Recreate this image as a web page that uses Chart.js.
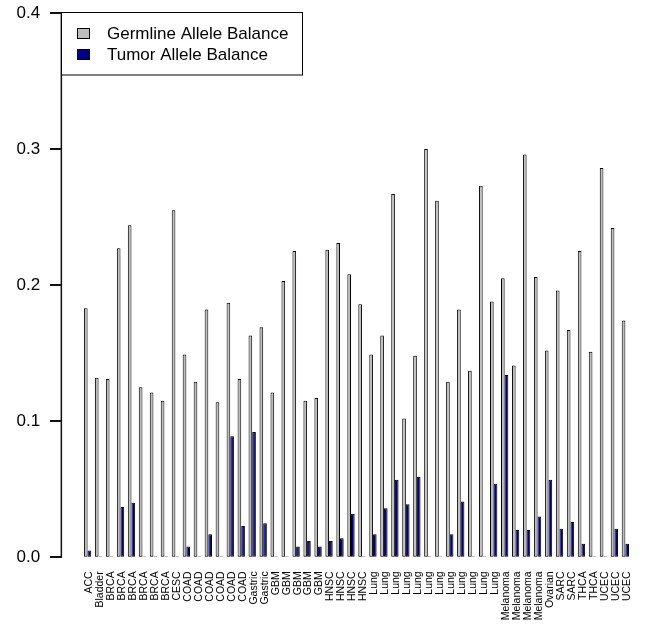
<!DOCTYPE html>
<html>
<head>
<meta charset="utf-8">
<title>Allele Balance</title>
<script src="https://cdn.jsdelivr.net/npm/chart.js@4/dist/chart.umd.min.js"></script>
<style>
  html, body { margin: 0; padding: 0; background: #ffffff; }
  #wrap { width: 652px; height: 635px; }
</style>
</head>
<body>
<div id="wrap"><canvas id="chart" width="652" height="635"></canvas></div>
<script>
// Sample tumour types, one per sample
const categories = [
  'ACC', 'Bladder',
  'BRCA', 'BRCA', 'BRCA', 'BRCA', 'BRCA', 'BRCA',
  'CESC',
  'COAD', 'COAD', 'COAD', 'COAD', 'COAD', 'COAD',
  'Gastric', 'Gastric',
  'GBM', 'GBM', 'GBM', 'GBM', 'GBM',
  'HNSC', 'HNSC', 'HNSC', 'HNSC',
  'Lung', 'Lung', 'Lung', 'Lung', 'Lung', 'Lung',
  'Lung', 'Lung', 'Lung', 'Lung', 'Lung', 'Lung',
  'Melanoma', 'Melanoma', 'Melanoma', 'Melanoma',
  'Ovarian',
  'SARC', 'SARC',
  'THCA', 'THCA',
  'UCEC', 'UCEC', 'UCEC'
];

// Germline allele balance per sample
const germline = [
  0.183, 0.132,
  0.131, 0.227, 0.244, 0.125, 0.121, 0.115,
  0.255,
  0.149, 0.129, 0.182, 0.114, 0.187, 0.131,
  0.163, 0.169,
  0.121, 0.203, 0.225, 0.115, 0.117,
  0.226, 0.231, 0.208, 0.186,
  0.149, 0.163, 0.267, 0.102, 0.148, 0.300,
  0.262, 0.129, 0.182, 0.137, 0.273, 0.188,
  0.205, 0.141, 0.296, 0.206,
  0.152,
  0.196, 0.167,
  0.225, 0.151,
  0.286, 0.242, 0.174
];

// Tumor allele balance per sample
const tumor = [
  0.005, 0,
  0, 0.037, 0.040, 0, 0, 0,
  0,
  0.008, 0, 0.017, 0, 0.089, 0.023,
  0.092, 0.025,
  0, 0, 0.008, 0.012, 0.008,
  0.012, 0.014, 0.032, 0,
  0.017, 0.036, 0.057, 0.039, 0.059, 0,
  0, 0.017, 0.041, 0, 0, 0.054,
  0.134, 0.020, 0.020, 0.030,
  0.057,
  0.021, 0.026,
  0.010, 0,
  0, 0.021, 0.010
];

const seriesNames = ['Germline Allele Balance', 'Tumor Allele Balance'];
const seriesColors = ['#bebebe', '#00008b'];
const yTickLabels = ['0.0', '0.1', '0.2', '0.3', '0.4'];

const FONT = '"Liberation Sans", Arial, Helvetica, sans-serif';
Chart.defaults.font.family = FONT;
Chart.defaults.color = '#000000';

// Left value axis drawn away from the plot region
const sideAxis = {
  id: 'sideAxis',
  afterDraw(chart) {
    const ctx = chart.ctx;
    const yScale = chart.scales.y;
    const top = yScale.getPixelForValue(yScale.max);
    const bottom = yScale.getPixelForValue(yScale.min);

    ctx.save();
    ctx.globalAlpha = 1;
    ctx.globalCompositeOperation = 'source-over';
    ctx.fillStyle = '#111111';
    ctx.fillRect(60.6, top - 0.6, 1.5, bottom - top + 1.2);
    yScale.ticks.forEach((t) => {
      const py = Math.round(yScale.getPixelForValue(t.value));
      ctx.fillRect(50, py - 1, 11.5, 2);
    });
    ctx.restore();
  }
};

// Boxed legend in the top-left corner
const boxLegend = {
  id: 'boxLegend',
  afterDraw(chart) {
    const ctx = chart.ctx;
    ctx.save();
    ctx.fillStyle = '#ffffff';
    ctx.fillRect(62, 13, 240, 62);
    ctx.strokeStyle = '#000000';
    ctx.lineWidth = 1;
    ctx.strokeRect(61.5, 12.5, 241, 62.5);
    ctx.font = '17px ' + FONT;
    ctx.textBaseline = 'middle';
    ctx.textAlign = 'left';
    const rows = [34, 55];
    chart.data.datasets.forEach((ds, i) => {
      const cy = rows[i];
      ctx.fillStyle = ds.backgroundColor;
      ctx.fillRect(78, cy - 5, 12, 10);
      ctx.strokeRect(77.5, cy - 5.5, 12, 10);
      ctx.fillStyle = '#000000';
      ctx.fillText(ds.label, 107, cy + 0.5);
    });
    ctx.restore();
  }
};

new Chart(document.getElementById('chart'), {
  type: 'bar',
  data: {
    labels: categories,
    datasets: [
      {
        label: seriesNames[0],
        data: germline,
        backgroundColor: seriesColors[0],
        borderColor: '#000000',
        borderWidth: 1,
        borderSkipped: false,
        minBarLength: 1,
        categoryPercentage: 2 / 3,
        barPercentage: 1
      },
      {
        label: seriesNames[1],
        data: tumor,
        backgroundColor: seriesColors[1],
        borderColor: '#000000',
        borderWidth: 1,
        borderSkipped: false,
        minBarLength: 1,
        categoryPercentage: 2 / 3,
        barPercentage: 1
      }
    ]
  },
  options: {
    responsive: false,
    animation: false,
    devicePixelRatio: 1,
    layout: { padding: { top: 12.9, right: 2.4, left: 0, bottom: 0 } },
    plugins: {
      legend: { display: false },
      tooltip: { enabled: false }
    },
    scales: {
      x: {
        type: 'category',
        offset: true,
        grid: { display: false, drawTicks: false },
        border: { display: false },
        ticks: {
          autoSkip: false,
          minRotation: 90,
          maxRotation: 90,
          padding: 14,
          labelOffset: 1.5,
          color: '#000000',
          font: { size: 10.5, family: FONT }
        },
        afterFit(scale) { scale.height = 77.7; }
      },
      y: {
        min: 0,
        max: 0.4,
        // invisible tick marks keep the labels clear of the plot region
        grid: {
          display: true,
          drawOnChartArea: false,
          drawTicks: true,
          tickLength: 42,
          tickColor: 'rgba(0,0,0,0)',
          color: 'rgba(0,0,0,0)'
        },
        border: { display: false },
        ticks: {
          stepSize: 0.1,
          padding: 0,
          color: '#000000',
          font: { size: 17, family: FONT },
          callback: (v) => yTickLabels[Math.round(v * 10)]
        },
        afterFit(scale) { scale.width = 82.1; }
      }
    }
  },
  plugins: [sideAxis, boxLegend]
});
</script>
</body>
</html>
